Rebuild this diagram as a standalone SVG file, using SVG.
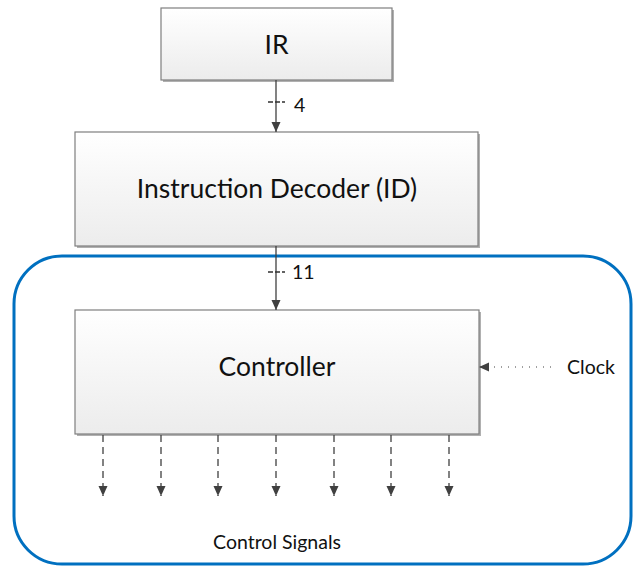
<svg xmlns="http://www.w3.org/2000/svg" width="635" height="567" viewBox="0 0 635 567">
  <style>
    .box { fill: url(#boxFill); stroke: #7f7f7f; stroke-width: 1.2; }
    .shadow { fill: #b0b0b0; }
    .big { font-family: Lato, "Open Sans", "Liberation Sans", sans-serif; font-size: 26.5px; fill: #111; text-anchor: middle; }
    .small { font-family: Lato, "Open Sans", "Liberation Sans", sans-serif; font-size: 19.5px; fill: #111; }
    .wire { stroke: #404040; stroke-width: 1.3; fill: none; }
    .sig { stroke: #404040; stroke-width: 1.3; fill: none; stroke-dasharray: 7 5; }
    .clk { stroke: #404040; stroke-width: 1.2; fill: none; stroke-dasharray: 1 6; }
    .tick { stroke: #303030; stroke-width: 1.4; stroke-dasharray: 5 2; }
  </style>
  <defs>
    <linearGradient id="boxFill" x1="0" y1="0" x2="0" y2="1">
      <stop offset="0" stop-color="#ffffff"/>
      <stop offset="1" stop-color="#ececec"/>
    </linearGradient>
    <marker id="arrow" viewBox="0 0 10 10" refX="10" refY="5" markerWidth="10" markerHeight="10" markerUnits="userSpaceOnUse" orient="auto">
      <path d="M0,0.5 L10,5 L0,9.5 Z" fill="#404040"/>
    </marker>
  </defs>

  <!-- controller boundary -->
  <rect id="controlUnit" x="14" y="256" width="617" height="308" rx="48" ry="48" fill="none" stroke="#0070c0" stroke-width="3"/>

  <g id="ir">
    <rect class="shadow" x="163" y="10" width="231" height="72"/>
    <rect class="box" x="161" y="8" width="231" height="72"/>
    <text class="big" x="276.5" y="54">IR</text>
  </g>

  <g id="decoder">
    <rect class="shadow" x="77" y="134" width="403" height="114"/>
    <rect class="box" x="75" y="132" width="403" height="114"/>
    <text class="big" x="277" y="198">Instruction Decoder (ID)</text>
  </g>

  <g id="controller">
    <rect class="shadow" x="77" y="312" width="404" height="124"/>
    <rect class="box" x="75" y="310" width="404" height="124"/>
    <text class="big" x="277" y="376">Controller</text>
  </g>

  <g id="connectors">
    <!-- IR to decoder, 4 bits -->
    <line class="wire" x1="276" y1="80" x2="276" y2="132" marker-end="url(#arrow)"/>
    <line class="tick" x1="268" y1="102" x2="285" y2="102"/>
    <text class="small" x="294" y="112">4</text>

    <!-- decoder to controller, 11 bits -->
    <line class="wire" x1="276" y1="246" x2="276" y2="310" marker-end="url(#arrow)"/>
    <line class="tick" x1="268" y1="272" x2="285" y2="272"/>
    <text class="small" x="292" y="279">11</text>

    <!-- clock input -->
    <line class="clk" x1="551" y1="367" x2="480" y2="367"/>
    <path d="M479,367 L489,362.5 L489,371.5 Z" fill="#404040"/>
    <text class="small" x="567" y="374">Clock</text>

    <!-- control signal outputs -->
    <g>
      <line class="sig" x1="103" y1="435" x2="103" y2="496" marker-end="url(#arrow)"/>
      <line class="sig" x1="161" y1="435" x2="161" y2="496" marker-end="url(#arrow)"/>
      <line class="sig" x1="218" y1="435" x2="218" y2="496" marker-end="url(#arrow)"/>
      <line class="sig" x1="276" y1="435" x2="276" y2="496" marker-end="url(#arrow)"/>
      <line class="sig" x1="334" y1="435" x2="334" y2="496" marker-end="url(#arrow)"/>
      <line class="sig" x1="391" y1="435" x2="391" y2="496" marker-end="url(#arrow)"/>
      <line class="sig" x1="449" y1="435" x2="449" y2="496" marker-end="url(#arrow)"/>
    </g>
    <text class="small" x="277" y="549" text-anchor="middle">Control Signals</text>
  </g>
</svg>
